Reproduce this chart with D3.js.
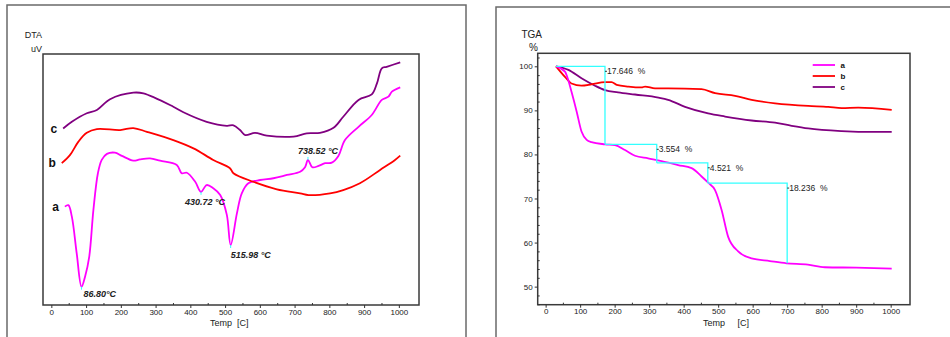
<!DOCTYPE html>
<html>
<head>
<meta charset="utf-8">
<script src="https://cdn.jsdelivr.net/npm/d3@7"></script>
<style>
  body { margin: 0; background: #fff; }
  svg { display: block; font-family: "Liberation Sans", Arial, sans-serif; }
  .axis path { display: none; }
  .axis line { stroke: #333; stroke-width: 1; }
  .axis text { font-size: 8px; fill: #222; }
  .lbl { white-space: pre; }
</style>
</head>
<body>
<svg id="chart"></svg>
<script>
// ---- data ----
const tempTicks = [0, 100, 200, 300, 400, 500, 600, 700, 800, 900, 1000];
const tempMinor = [50, 150, 250, 350, 450, 550, 650, 750, 850, 950];
const tgaTicks = [50, 60, 70, 80, 90, 100];
const tgaMinor = [46, 48, 52, 54, 56, 58, 62, 64, 66, 68, 72, 74, 76, 78, 82, 84, 86, 88, 92, 94, 96, 98, 102];

// DTA in arbitrary uV units (no scale printed), [temp, value]
const dtaA = [[39,39.2],[49,39.8],[59,35.2],[73,20.6],[86.8,7.3],[97,11.3],[109,19.2],[121,37.8],[134,52.5],
  [145,57.8],[160,60.2],[183,60.7],[203,59.4],[236,57.5],[255,58],[284,58.4],[313,57.5],[361,55.8],[375,52.5],
  [390,52.7],[414,49.1],[430.72,45.1],[447,47.8],[466,46.5],[486,43.8],[505,35.9],[515.98,23.9],[534,36.5],
  [548,44.5],[567,48.5],[601,49.8],[639,50.5],[678,51.8],[716,53.1],[730,54.9],[738.52,57.8],[751,54.9],
  [769,55.4],[788,56.5],[807,56.7],[826,59.4],[845,65.7],[884,71],[922,75.7],[951,81.7],[970,83],[980,85],[1004,86.7]];
const dtaB = [[30,56.5],[54,59.8],[78,65.1],[102,68.6],[131,70.1],[198,69.7],[236,70.5],[275,69],[351,65.7],
  [409,62.4],[466,57.8],[514,54.5],[524,52.5],[581,49.1],[649,46.1],[716,44.5],[740,43.8],[802,44.5],
  [840,45.8],[888,48.5],[946,53.8],[989,57.8],[1004,59.5]];
const dtaC = [[34,70.3],[59,73],[102,76.4],[131,77.7],[169,82],[236,84.6],[265,84.3],[351,79],[380,76.8],
  [447,73],[505,71.4],[524,71.6],[543,69.7],[558,67.7],[586,68.6],[620,67.5],[697,67.1],[735,68.4],
  [773,68.6],[812,70.6],[840,75],[884,81.7],[922,83.9],[937,88.3],[951,94.3],[965,94.9],[1004,96.7]];
const dtaPeaks = [
  { curve: 'a', temp: 86.8, text: '86.80°C' },
  { curve: 'a', temp: 430.72, text: '430.72 °C' },
  { curve: 'a', temp: 515.98, text: '515.98 °C' },
  { curve: 'a', temp: 738.52, text: '738.52 °C' }
];

// TGA mass %, [temp, value]
const tgaA = [[30,100],[56,98.8],[65,97],[75,94.2],[90,89.7],[104,85.2],[119,83.3],[133,82.8],[172,82.3],
  [201,82.1],[230,81],[259,79.7],[297,79.1],[336,78.5],[384,77.6],[423,76.9],[452,75],[471,73.6],[491,71.9],
  [510,67.4],[529,61.3],[558,58],[597,56.4],[650,55.8],[698,55.3],[760,55],[809,54.4],[900,54.3],[1003,54.1]];
const tgaB = [[30,100],[56,97.6],[75,96.1],[104,95.6],[133,95.9],[172,96.4],[191,96.4],[206,95.8],[240,95.4],
  [278,95.2],[288,95.4],[317,95],[355,95],[452,94.8],[491,93.9],[549,93.3],[597,92.4],[665,91.6],[761,91],
  [819,90.8],[858,90.5],[906,90.6],[1003,90.1]];
const tgaC = [[30,100],[66,99.2],[104,97.3],[143,95.6],[172,94.6],[210,94.1],[259,93.6],[327,92.9],[355,92.4],
  [404,90.8],[471,89.3],[520,88.6],[597,87.7],[665,87.2],[713,86.5],[761,85.9],[858,85.3],[954,85.1],[1003,85.1]];
const stepTemps = [30, 172, 322, 470, 700];
const stepLevels = [100, 82.3, 78.1, 73.5, 55.3];
const stepLabels = ['17.646 %', '3.554 %', '4.521 %', '18.236 %'];

const seriesNames = ['a', 'b', 'c'];
const seriesColors = { a: '#ff00ff', b: '#ff0000', c: '#800080' };

// ---- drawing ----
const svg = d3.select('#chart').attr('width', 950).attr('height', 337);

function makePanel(cfg) {
  const g = svg.append('g');
  g.append('rect')
    .attr('x', cfg.frame[0]).attr('y', cfg.frame[1])
    .attr('width', cfg.frame[2]).attr('height', cfg.frame[3])
    .attr('fill', 'none').attr('stroke', '#6a6a6a').attr('stroke-width', 1.5);

  const x = d3.scaleLinear().domain(cfg.xDomain).range([cfg.box[0], cfg.box[2]]);
  const y = d3.scaleLinear().domain(cfg.yDomain).range([cfg.box[3], cfg.box[1]]);

  g.append('rect')
    .attr('x', cfg.box[0]).attr('y', cfg.box[1])
    .attr('width', cfg.box[2] - cfg.box[0]).attr('height', cfg.box[3] - cfg.box[1])
    .attr('fill', 'none').attr('stroke', '#3a3a3a').attr('stroke-width', 1.5);

  g.append('g').attr('class', 'axis')
    .attr('transform', `translate(0,${cfg.box[3]})`)
    .call(d3.axisBottom(x).tickValues(tempTicks).tickFormat(d3.format('d')).tickSize(3).tickPadding(1));
  g.append('g').attr('class', 'axis')
    .attr('transform', `translate(0,${cfg.box[3]})`)
    .call(d3.axisBottom(x).tickValues(tempMinor).tickSize(-2).tickFormat(''));

  g.append('text').attr('class', 'lbl')
    .attr('x', cfg.xTitle[0]).attr('y', cfg.xTitle[1])
    .attr('font-size', 9).attr('fill', '#222')
    .text(cfg.xTitleText);

  g.append('text')
    .attr('x', cfg.yTitle[0]).attr('y', cfg.yTitle[1])
    .attr('text-anchor', 'end').attr('font-size', cfg.yTitleSize).attr('fill', '#222')
    .text(cfg.yTitleText[0]);
  g.append('text')
    .attr('x', cfg.yTitle[2]).attr('y', cfg.yTitle[3])
    .attr('text-anchor', 'end').attr('font-size', cfg.yTitleSize).attr('fill', '#222')
    .text(cfg.yTitleText[1]);

  return { g, x, y };
}

// DTA panel
const dta = makePanel({
  frame: [7, 5, 459, 345],
  box: [43, 54, 419, 305],
  xDomain: [-24, 1058],
  yDomain: [0, 100],
  xTitle: [210, 326], xTitleText: 'Temp  [C]',
  yTitle: [42, 38, 42, 52], yTitleText: ['DTA', 'uV'], yTitleSize: 9
});

const dtaLine = d3.line()
  .x(d => dta.x(d[0])).y(d => dta.y(d[1]))
  .curve(d3.curveCatmullRom.alpha(0.5));
const dtaData = { a: dtaA, b: dtaB, c: dtaC };

seriesNames.forEach(k => {
  dta.g.append('path')
    .datum(dtaData[k])
    .attr('d', dtaLine)
    .attr('fill', 'none')
    .attr('stroke', seriesColors[k])
    .attr('stroke-width', 1.8)
    .attr('stroke-linejoin', 'round');
  const first = dtaData[k][0];
  dta.g.append('text')
    .attr('x', dta.x(first[0]) - 6).attr('y', dta.y(first[1]) + 4)
    .attr('text-anchor', 'end')
    .attr('font-size', 12).attr('font-weight', 'bold').attr('fill', '#111')
    .text(k);
});

// peak annotations (label offsets relative to the peak point)
const peakOffsets = [[2, 10, 'start'], [4, 13, 'middle'], [0, 13, 'start'], [-10, -6, 'start']];
dtaPeaks.forEach((p, i) => {
  const pt = dtaData[p.curve].find(d => d[0] === p.temp);
  const px = dta.x(pt[0]), py = dta.y(pt[1]);
  dta.g.append('line')
    .attr('x1', px).attr('x2', px)
    .attr('y1', py + (peakOffsets[i][1] < 0 ? -3 : 0)).attr('y2', py + (peakOffsets[i][1] < 0 ? 0 : 3))
    .attr('stroke', '#33ffff').attr('stroke-width', 1);
  dta.g.append('text')
    .attr('x', px + peakOffsets[i][0]).attr('y', py + peakOffsets[i][1])
    .attr('text-anchor', peakOffsets[i][2])
    .attr('font-size', 9).attr('font-weight', 'bold').attr('font-style', 'italic')
    .attr('fill', '#222')
    .text(p.text);
});

// TGA panel
const tga = makePanel({
  frame: [496, 7, 470, 345],
  box: [537.7, 53.3, 910, 304.7],
  xDomain: [-23, 1056],
  yDomain: [45.9, 102.95],
  xTitle: [703, 326], xTitleText: 'Temp     [C]',
  yTitle: [542, 38, 538, 51], yTitleText: ['TGA', '%'], yTitleSize: 10
});

tga.g.append('g').attr('class', 'axis')
  .attr('transform', `translate(${tga.x.range()[0]},0)`)
  .call(d3.axisLeft(tga.y).tickValues(tgaTicks).tickSize(3).tickPadding(2));
tga.g.append('g').attr('class', 'axis')
  .attr('transform', `translate(${tga.x.range()[0]},0)`)
  .call(d3.axisLeft(tga.y).tickValues(tgaMinor).tickSize(-2).tickFormat(''));

const tgaLine = d3.line().x(d => tga.x(d[0])).y(d => tga.y(d[1]));

const tgaData = { a: tgaA, b: tgaB, c: tgaC };
seriesNames.slice().reverse().forEach(k => {
  tga.g.append('path')
    .datum(tgaData[k])
    .attr('d', tgaLine.curve(d3.curveMonotoneX))
    .attr('fill', 'none')
    .attr('stroke', seriesColors[k])
    .attr('stroke-width', 1.8);
});

// step construction lines, drawn after the curves so they sit on top
for (let i = 0; i < stepTemps.length - 1; i++) {
  const seg = [[stepTemps[i], stepLevels[i]], [stepTemps[i + 1], stepLevels[i]], [stepTemps[i + 1], stepLevels[i + 1]]];
  tga.g.append('path')
    .datum(seg)
    .attr('d', d3.line().x(d => tga.x(d[0])).y(d => tga.y(d[1])))
    .attr('fill', 'none').attr('stroke', '#33ffff').attr('stroke-width', 1.3);
  const lx = tga.x(stepTemps[i + 1]), ly = tga.y(stepLevels[i]) + 5;
  tga.g.append('line')
    .attr('x1', lx).attr('x2', lx + 2).attr('y1', ly).attr('y2', ly)
    .attr('stroke', '#333').attr('stroke-width', 1);
  tga.g.append('text').attr('class', 'lbl')
    .attr('x', lx + 2).attr('y', ly + 3)
    .attr('font-size', 8.5).attr('fill', '#222')
    .text(stepLabels[i].replace(' ', '  '));
}

// legend
const legendY = d3.scalePoint().domain(seriesNames).range([65, 87]);
seriesNames.forEach(k => {
  tga.g.append('line')
    .attr('x1', 812.7).attr('x2', 835)
    .attr('y1', legendY(k)).attr('y2', legendY(k))
    .attr('stroke', seriesColors[k]).attr('stroke-width', 1.8);
  tga.g.append('text')
    .attr('x', 840.5).attr('y', legendY(k) + 3)
    .attr('font-size', 8).attr('font-weight', 'bold').attr('fill', '#111')
    .text(k);
});
</script>
</body>
</html>
